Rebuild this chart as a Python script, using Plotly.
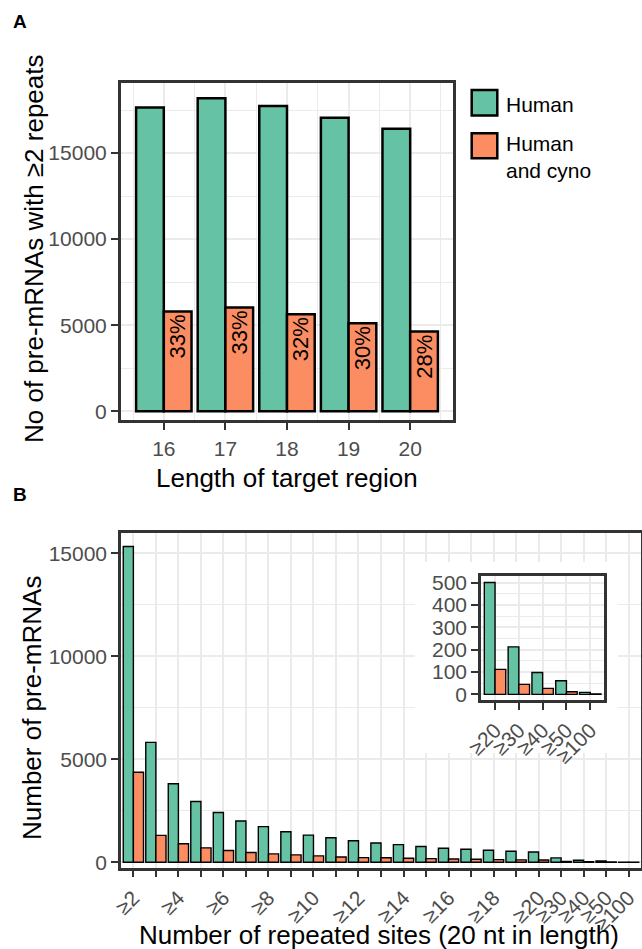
import plotly.graph_objects as go

W, H = 642, 949

# ---------------- data ----------------
# Panel A
lengths = [16, 17, 18, 19, 20]
human_a = [17650, 18180, 17730, 17050, 16410]
cyno_a = [5800, 6030, 5640, 5120, 4630]

# Panel B
sites = ["≥2", "≥3", "≥4", "≥5", "≥6", "≥7", "≥8", "≥9", "≥10", "≥11", "≥12",
         "≥13", "≥14", "≥15", "≥16", "≥17", "≥18", "≥19", "≥20", "≥30", "≥40",
         "≥50", "≥100"]
site_ticks = ["≥2", "", "≥4", "", "≥6", "", "≥8", "", "≥10", "", "≥12", "",
              "≥14", "", "≥16", "", "≥18", "", "≥20", "≥30", "≥40", "≥50", "≥100"]
human_b = [15330, 5820, 3815, 2950, 2415, 2005, 1730, 1485, 1320, 1190, 1045,
           940, 860, 765, 683, 634, 585, 537, 501, 213, 98, 61, 9]
cyno_b = [4370, 1305, 897, 701, 571, 473, 408, 359, 310, 261, 228,
          218, 195, 178, 162, 146, 132, 120, 112, 45, 27, 12, 2]

# Inset (same counts for the highest thresholds)
inset_sites = ["≥20", "≥30", "≥40", "≥50", "≥100"]
human_inset = [501, 213, 98, 61, 9]
cyno_inset = [112, 45, 27, 12, 2]

GREEN = "#66C2A5"
ORANGE = "#FC8D62"
FONT = "Liberation Sans, Arial, Helvetica, sans-serif"
TICKC = "#4D4D4D"
LINEC = "#333333"
GRID = "#EBEBEB"


def xp(px):
    return px / W


def yp(py):
    return 1 - py / H


pct = [f"{round(100 * c / h)}%" for c, h in zip(cyno_a, human_a)]

fig = go.Figure()

# Panel A
fig.add_trace(go.Bar(x=lengths, y=human_a, name="Human", marker=dict(color=GREEN, line=dict(color="black", width=2.5)),
                     xaxis="x", yaxis="y", showlegend=False))
fig.add_trace(go.Bar(x=lengths, y=cyno_a, name="Human and cyno", marker=dict(color=ORANGE, line=dict(color="black", width=2.5)),
                     text=pct, textposition="inside", insidetextanchor="end", textangle=-90,
                     constraintext="none", textfont=dict(size=22, color="black", family=FONT),
                     xaxis="x", yaxis="y", showlegend=False))

# Panel B
fig.add_trace(go.Bar(x=sites, y=human_b, name="Human", marker=dict(color=GREEN, line=dict(color="black", width=1.4)),
                     xaxis="x2", yaxis="y2", showlegend=False))
fig.add_trace(go.Bar(x=sites, y=cyno_b, name="Human and cyno", marker=dict(color=ORANGE, line=dict(color="black", width=1.4)),
                     xaxis="x2", yaxis="y2", showlegend=False))

# empty subplot whose white background hides the main grid behind the inset
fig.add_trace(go.Scatter(x=[None], y=[None], mode="markers", xaxis="x3", yaxis="y3",
                         showlegend=False, hoverinfo="skip"))

# Inset
fig.add_trace(go.Bar(x=inset_sites, y=human_inset, name="Human", marker=dict(color=GREEN, line=dict(color="black", width=1.4)),
                     xaxis="x4", yaxis="y4", showlegend=False))
fig.add_trace(go.Bar(x=inset_sites, y=cyno_inset, name="Human and cyno", marker=dict(color=ORANGE, line=dict(color="black", width=1.4)),
                     xaxis="x4", yaxis="y4", showlegend=False))

common = dict(showline=True, linecolor=LINEC, linewidth=2.5, mirror=True,
              ticks="outside", ticklen=7, tickwidth=2, tickcolor=LINEC,
              tickfont=dict(size=21, color=TICKC, family=FONT),
              showgrid=True, gridcolor=GRID, gridwidth=2, zeroline=False, automargin=False)

blank = dict(showline=False, showgrid=False, zeroline=False, ticks="", showticklabels=False,
             range=[0, 1], fixedrange=True, automargin=False)

fig.update_layout(
    width=W, height=H, autosize=False,
    margin=dict(l=0, r=0, t=0, b=0, pad=0),
    paper_bgcolor="white", plot_bgcolor="white",
    barmode="group", bargap=0.1, bargroupgap=0,
    font=dict(family=FONT, color="black"),
    showlegend=False,
    xaxis=dict(domain=[xp(120.7), xp(453.3)], anchor="y", range=[15.3, 20.7],
               tickvals=lengths, ticklabelstandoff=1,
               minor=dict(tickvals=[15.5, 16.5, 17.5, 18.5, 19.5, 20.5], showgrid=True,
                          gridcolor=GRID, gridwidth=1, ticks=""), **common),
    yaxis=dict(domain=[yp(420.3), yp(82.7)], anchor="x", range=[-523, 19087],
               tickvals=[0, 5000, 10000, 15000], tickformat="d",
               minor=dict(dtick=2500, showgrid=True, gridcolor=GRID, gridwidth=1, ticks=""), **common),
    xaxis2=dict(domain=[xp(121), xp(641)], anchor="y2", type="category",
                categoryorder="array", categoryarray=sites, range=[-0.55, 22.55],
                tickvals=sites, ticktext=site_ticks, tickangle=-45, **common),
    yaxis2=dict(domain=[yp(867.7), yp(532.7)], anchor="x2", range=[-262, 16000],
                tickvals=[0, 5000, 10000, 15000], tickformat="d",
                minor=dict(dtick=2500, showgrid=True, gridcolor=GRID, gridwidth=1, ticks=""), **common),
    xaxis3=dict(domain=[xp(415), xp(618)], anchor="y3", **blank),
    yaxis3=dict(domain=[yp(753), yp(562)], anchor="x3", **blank),
    xaxis4=dict(domain=[xp(481), xp(604.3)], anchor="y4", type="category",
                categoryorder="array", categoryarray=inset_sites, range=[-0.59, 4.59],
                tickvals=inset_sites, ticktext=inset_sites, tickangle=-45, **common),
    yaxis4=dict(domain=[yp(700), yp(576)], anchor="x4", range=[-25, 530],
                tickvals=[0, 100, 200, 300, 400, 500], tickformat="d",
                minor=dict(dtick=50, showgrid=True, gridcolor=GRID, gridwidth=1, ticks=""), **common),
)

# legend (drawn manually to match key size)
for top, bottom, col in [(90, 115.5, GREEN), (133.3, 158.3, ORANGE)]:
    fig.add_shape(type="rect", xref="paper", yref="paper",
                  x0=xp(471.7), x1=xp(497.3), y0=yp(bottom), y1=yp(top),
                  fillcolor=col, line=dict(color="black", width=2.5))

ann = []
ann.append(dict(text="Human", x=xp(504), y=yp(104), xanchor="left", yanchor="middle",
                font=dict(size=21, color="black")))
ann.append(dict(text="Human<br>and cyno", x=xp(504), y=yp(157), xanchor="left", yanchor="middle",
                align="left", font=dict(size=21, color="black")))
# panel letters
ann.append(dict(text="<b>A</b>", x=xp(11), y=yp(21.7), xanchor="left", yanchor="middle",
                font=dict(size=19, color="black")))
ann.append(dict(text="<b>B</b>", x=xp(11), y=yp(495), xanchor="left", yanchor="middle",
                font=dict(size=19, color="black")))
# axis titles
ann.append(dict(text="Length of target region", x=xp(287), y=yp(478), xanchor="center", yanchor="middle",
                font=dict(size=26, color="black")))
ann.append(dict(text="No of pre-mRNAs with ≥2 repeats", x=xp(34), y=yp(249), xanchor="center", yanchor="middle",
                textangle=-90, font=dict(size=26, color="black")))
ann.append(dict(text="Number of repeated sites (20 nt in length)", x=xp(379), y=yp(935), xanchor="center",
                yanchor="middle", font=dict(size=26, color="black")))
ann.append(dict(text="Number of pre-mRNAs", x=xp(32), y=yp(708), xanchor="center", yanchor="middle",
                textangle=-90, font=dict(size=26, color="black")))
for a in ann:
    a.update(xref="paper", yref="paper", showarrow=False)
fig.update_layout(annotations=ann)

fig.write_html("out.html", config={"displayModeBar": False},
               post_script="document.body.style.margin='0';document.body.style.overflow='hidden';")
